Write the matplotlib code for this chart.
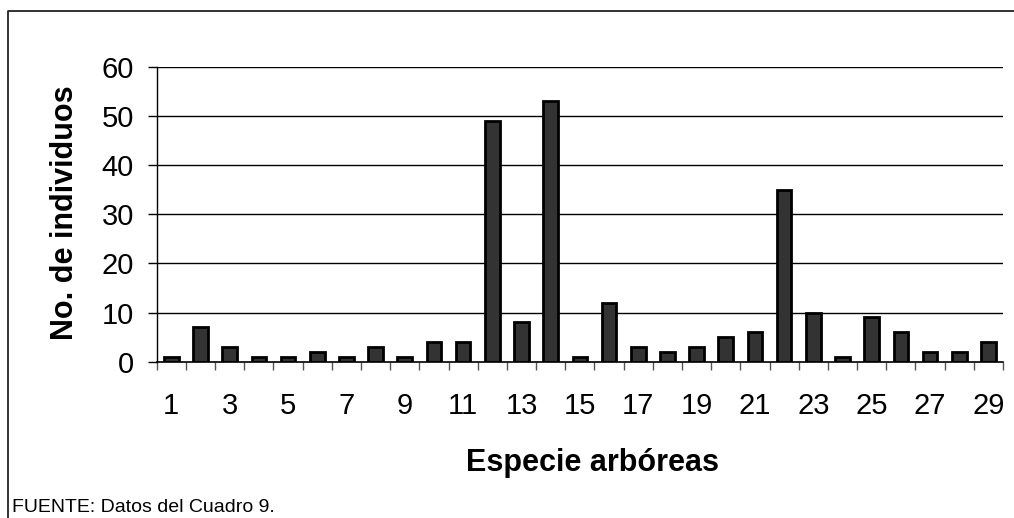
import matplotlib
matplotlib.use("Agg")
import matplotlib.pyplot as plt
from matplotlib.lines import Line2D
import numpy as np

plt.rcParams['font.family'] = ['Liberation Sans', 'DejaVu Sans']

especies = list(range(1, 30))
individuos = [1, 7, 3, 1, 1, 2, 1, 3, 1, 4,
              4, 49, 8, 53, 1, 12, 3, 2, 3, 5,
              6, 35, 10, 1, 9, 6, 2, 2, 4]
etiquetas_x = [str(n) for n in especies[::2]]
valores_y = [0, 10, 20, 30, 40, 50, 60]

W, H = 1014, 518
fig = plt.figure(figsize=(W / 100, H / 100), dpi=100)
fig.patch.set_facecolor('white')

ax = fig.add_axes([156.7 / W, 1 - 361.7 / H, (1003 - 156.7) / W, (361.7 - 66.7) / H])

x = np.arange(len(especies))
ax.bar(x, individuos, width=0.5, color='#333333', edgecolor='black',
       linewidth=2.0, zorder=3)

ax.set_xlim(-0.5, len(especies) - 0.5)
ax.set_ylim(0, 60)

# horizontal gridlines
ax.set_yticks(valores_y)
ax.set_yticklabels([str(v) for v in valores_y])
for v in valores_y[1:]:
    ax.axhline(v, color='black', linewidth=1.0, zorder=1)

ax.tick_params(axis='y', direction='out', length=6.5, width=1.0,
               pad=10, labelsize=21, color='black')

# labels under every other bar, tick marks at category boundaries
ax.set_xticks(x[::2])
ax.set_xticklabels(etiquetas_x)
ax.set_xticks(np.arange(len(especies) + 1) - 0.5, minor=True)
ax.tick_params(axis='x', which='major', length=0, pad=22, labelsize=21)
ax.tick_params(axis='x', which='minor', direction='out', length=6,
               width=1.0, color='#555555')

for s in ['top', 'right']:
    ax.spines[s].set_visible(False)
ax.spines['left'].set_linewidth(1.0)
ax.spines['bottom'].set_linewidth(1.2)
ax.spines['bottom'].set_zorder(4)

fig.text(65 / W, 1 - 213 / H, 'No. de individuos', rotation=90,
         ha='center', va='center', fontsize=22, fontweight='bold')
fig.text(593 / W, 1 - 463 / H, 'Especie arbóreas', ha='center',
         va='center', fontsize=22, fontweight='bold')
fig.text(12 / W, 2 / H, 'FUENTE: Datos del Cuadro 9.', ha='left',
         va='bottom', fontsize=14)

# frame around the chart
fig.add_artist(Line2D([8 / W, 8 / W, 1.0], [0.0, 1 - 11 / H, 1 - 11 / H],
                      transform=fig.transFigure, color='#222222',
                      linewidth=1.3))

fig.savefig('out.png', dpi=100)
